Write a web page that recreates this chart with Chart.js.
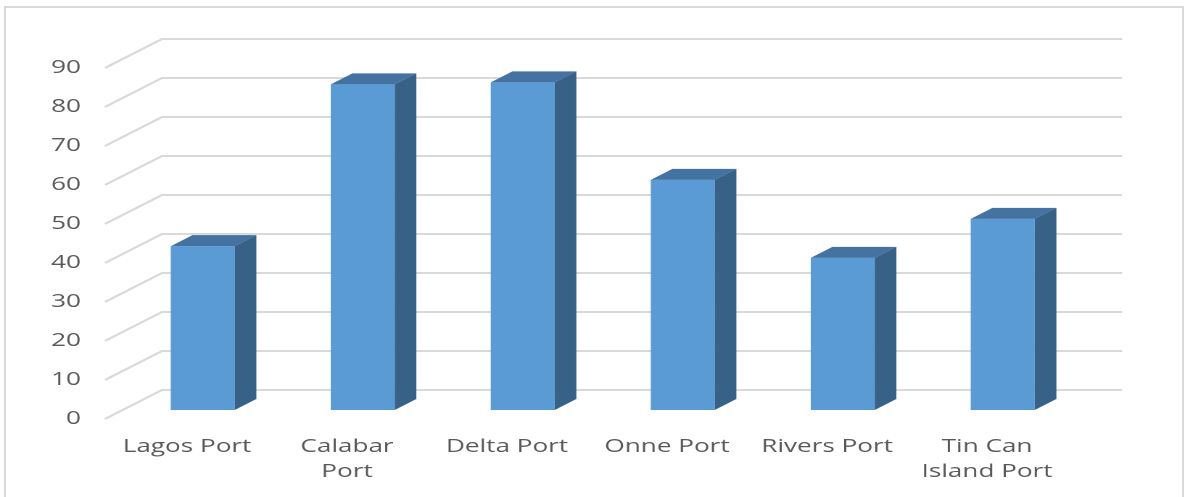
<!DOCTYPE html>
<html>
<head>
<meta charset="utf-8">
<script src="https://cdn.jsdelivr.net/npm/chart.js@4.4.1/dist/chart.umd.min.js"></script>
<style>
  html, body { margin: 0; padding: 0; background: #fff; overflow: hidden; }
  .frame { position: absolute; left: 4px; top: 6px; width: 1176px; height: 520px; border: 2px solid #d9d9d9; }
  /* chart is laid out narrow and widened, like the stretched office export */
  .stretch { position: absolute; left: 0; top: 0; width: 817px; height: 497px; transform-origin: 0 0; transform: scaleX(1.4504); }
</style>
</head>
<body>
<div class="frame"></div>
<div class="stretch"><canvas id="portChart"></canvas></div>
<script>
const ports = ['Lagos Port', ['Calabar', 'Port'], 'Delta Port', 'Onne Port', 'Rivers Port', ['Tin Can', 'Island Port']];
const portValues = [42, 83.5, 84, 59, 39, 49];
const valueTicks = [0, 10, 20, 30, 40, 50, 60, 70, 80, 90];

// depth of the 3d floor, and where the bars sit inside it
const DEPTH_X = 39.3;
const DEPTH_Y = -29;
const FRONT_GAP = 0.31;
const BAR_DEPTH = 0.38;

const FACE = '#5b9bd5';
const TOP = '#4573a1';
const SIDE = '#386188';
const GRID = '#d9d9d9';
const TEXT = '#595959';

const box3d = {
  id: 'box3d',
  beforeDatasetsDraw(chart) {
    const { ctx, chartArea, scales } = chart;
    const y = scales.y;
    const fx = -FRONT_GAP * DEPTH_X, fy = -FRONT_GAP * DEPTH_Y;
    const bx = (1 - FRONT_GAP) * DEPTH_X, by = (1 - FRONT_GAP) * DEPTH_Y;
    ctx.save();
    ctx.strokeStyle = GRID;
    ctx.lineWidth = 2;
    y.ticks.forEach(t => {
      const py = y.getPixelForValue(t.value);
      ctx.beginPath();
      ctx.moveTo(chartArea.left + fx, py + fy);
      ctx.lineTo(chartArea.left + bx, py + by);
      ctx.lineTo(chartArea.right + bx, py + by);
      ctx.stroke();
    });
    ctx.restore();
  },
  afterDatasetsDraw(chart) {
    const ctx = chart.ctx;
    const dx = BAR_DEPTH * DEPTH_X, dy = BAR_DEPTH * DEPTH_Y;
    ctx.save();
    chart.getDatasetMeta(0).data.forEach(bar => {
      const { x, y, base, width } = bar.getProps(['x', 'y', 'base', 'width'], true);
      const l = x - width / 2, r = x + width / 2;
      // top face
      ctx.fillStyle = TOP;
      ctx.beginPath();
      ctx.moveTo(l, y);
      ctx.lineTo(l + dx, y + dy);
      ctx.lineTo(r + dx, y + dy);
      ctx.lineTo(r, y);
      ctx.closePath();
      ctx.fill();
      // right side
      ctx.fillStyle = SIDE;
      ctx.beginPath();
      ctx.moveTo(r, y);
      ctx.lineTo(r + dx, y + dy);
      ctx.lineTo(r + dx, base + dy);
      ctx.lineTo(r, base);
      ctx.closePath();
      ctx.fill();
    });
    ctx.restore();
  }
};

new Chart(document.getElementById('portChart'), {
  type: 'bar',
  data: {
    labels: ports,
    datasets: [{
      data: portValues,
      backgroundColor: FACE,
      borderWidth: 0,
      barPercentage: 0.4,
      categoryPercentage: 1
    }]
  },
  options: {
    responsive: true,
    maintainAspectRatio: false,
    animation: false,
    devicePixelRatio: 2,
    layout: { padding: { top: 59, right: 70.5, bottom: 0, left: 0 } },
    plugins: { legend: { display: false }, tooltip: { enabled: false } },
    scales: {
      x: {
        grid: { display: false, drawTicks: false },
        border: { display: false },
        ticks: {
          color: TEXT,
          font: { family: 'Open Sans', size: 18, lineHeight: 1.39 },
          padding: 24.5,
          labelOffset: -10.8,
          maxRotation: 0,
          autoSkip: false
        },
        afterFit(s) { s.height = 87; }
      },
      y: {
        min: valueTicks[0],
        max: valueTicks[valueTicks.length - 1],
        grid: { display: false, drawTicks: false },
        border: { display: false },
        ticks: {
          stepSize: valueTicks[1] - valueTicks[0],
          color: TEXT,
          font: { family: 'Open Sans', size: 18 },
          padding: 28.8,
          labelOffset: 9
        },
        afterFit(s) { s.width = 84.6; }
      }
    }
  },
  plugins: [box3d]
});
</script>
</body>
</html>
